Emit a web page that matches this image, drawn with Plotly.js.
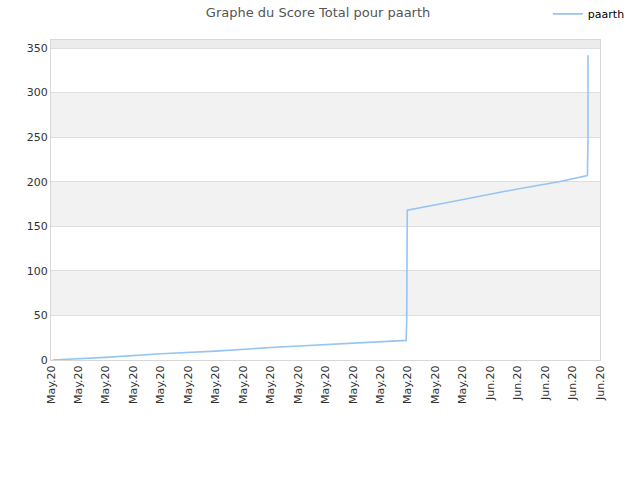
<!DOCTYPE html>
<html>
<head>
<meta charset="utf-8">
<script src="https://cdn.plot.ly/plotly-3.0.1.min.js"></script>
<style>html,body{margin:0;padding:0;background:#fff;}#chart{width:640px;height:480px;}</style>
</head>
<body>
<div id="chart"></div>
<script>
// Data
const seriesName = 'paarth';
const dates = [
  '2020-05-01 03:00', '2020-05-05 00:00', '2020-05-09 00:00', '2020-05-13 00:00',
  '2020-05-17 00:00', '2020-05-21 00:00', '2020-05-25 00:00', '2020-05-26 21:00',
  '2020-05-26 22:00', '2020-05-26 22:00', '2020-05-26 22:00', '2020-05-26 22:00',
  '2020-05-26 23:00',
  '2020-05-30 00:00', '2020-06-03 00:00', '2020-06-07 00:00', '2020-06-09 02:00',
  '2020-06-09 03:00', '2020-06-09 03:00', '2020-06-09 03:00'
];
const scores = [
  0, 3, 7, 10,
  14, 17, 20, 22,
  44, 70, 99, 132,
  168,
  177, 189, 200, 207,
  249, 294, 342
];
const yTicks = [0, 50, 100, 150, 200, 250, 300, 350];
const yMax = 359;
const xStart = '2020-05-01';
const xEnd = '2020-06-10';
const titleText = 'Graphe du Score Total pour paarth';

// alternating background bands built from tick values
const shapes = [];
const bandEdges = yTicks.concat([yMax]);
for (let i = 0; i < bandEdges.length - 1; i++) {
  if (i % 2 === 1) {
    shapes.push({type: 'rect', xref: 'paper', yref: 'y', x0: 0, x1: 1,
      y0: bandEdges[i], y1: bandEdges[i + 1], fillcolor: i === bandEdges.length - 2 ? '#ececec' : '#f2f2f2',
      line: {width: 0}, layer: 'below'});
  }
}

const trace = {
  x: dates, y: scores, type: 'scatter', mode: 'lines', name: seriesName,
  line: {color: '#95c5f2', width: 1.6}
};

const layout = {
  width: 640, height: 480,
  margin: {l: 51, r: 40, t: 40, b: 120, autoexpand: false},
  paper_bgcolor: '#ffffff', plot_bgcolor: '#ffffff',
  font: {family: 'DejaVu Sans, sans-serif', size: 11, color: '#333'},
  title: {text: titleText, x: 0.497, xanchor: 'center', y: 0.975, yanchor: 'middle',
    font: {family: 'DejaVu Sans, sans-serif', size: 13, color: '#555'}},
  showlegend: true,
  legend: {x: 0.856, xref: 'container', xanchor: 'left', y: 0.971, yref: 'container', yanchor: 'middle',
    bgcolor: 'rgba(0,0,0,0)', font: {size: 11, color: '#000'}},
  xaxis: {
    type: 'date', range: [xStart, xEnd], tick0: xStart, dtick: 2 * 86400000,
    tickformat: '%b.%y', tickangle: -90, showgrid: false, zeroline: false,
    showline: true, linecolor: '#d8d8d8', linewidth: 1, mirror: true,
    ticks: '', tickfont: {size: 11, color: '#333'}
  },
  yaxis: {
    range: [0, yMax], tickvals: yTicks, showgrid: true, gridcolor: '#dedede',
    zeroline: false, showline: true, linecolor: '#d8d8d8', linewidth: 1, mirror: true,
    ticks: '', tickfont: {size: 11, color: '#333'}
  },
  shapes: shapes
};

Plotly.newPlot('chart', [trace], layout, {displayModeBar: false, staticPlot: true});
</script>
</body>
</html>
